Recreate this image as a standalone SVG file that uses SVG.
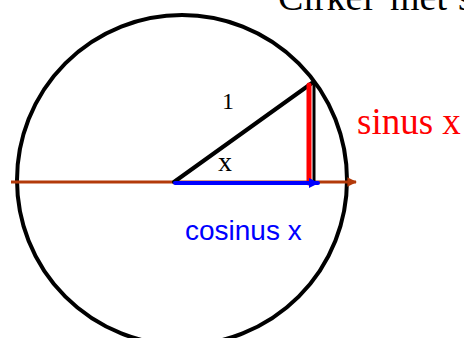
<svg xmlns="http://www.w3.org/2000/svg" width="464" height="338" viewBox="0 0 464 338">
<style>
.serif{font-family:"Liberation Serif","Times New Roman",serif}
.sans{font-family:"Liberation Sans",Arial,sans-serif}
</style>
<defs>
<marker id="brownHead" viewBox="0 0 10 10" refX="9" refY="5" markerWidth="3.2" markerHeight="3.2" orient="auto" markerUnits="strokeWidth">
<path d="M0,0 L10,5 L0,10 z" fill="#B33A0A"/>
</marker>
<marker id="blueHead" viewBox="0 0 10 10" refX="9" refY="5" markerWidth="2.5" markerHeight="2.5" orient="auto" markerUnits="strokeWidth">
<path d="M0,0 L10,5 L0,10 z" fill="#0000FF"/>
</marker>
</defs>
<rect width="464" height="338" fill="#fff"/>
<text class="serif" y="10" font-size="38" fill="#000"><tspan x="278">Cirkel</tspan><tspan x="390">met</tspan><tspan x="458">s</tspan></text>
<g id="circle">
<circle cx="182" cy="180" r="165" fill="none" stroke="#000" stroke-width="4"/>
</g>
<g id="connectors">
<line x1="11" y1="182" x2="356" y2="182" stroke="#B33A0A" stroke-width="3" marker-end="url(#brownHead)"/>
<line x1="174" y1="182" x2="312" y2="83" stroke="#000" stroke-width="4" stroke-linecap="round"/>
<line x1="314" y1="83" x2="314" y2="182" stroke="#000" stroke-width="3"/>
<line x1="309" y1="85" x2="309" y2="183" stroke="#FF0000" stroke-width="5" stroke-linecap="round"/>
<line x1="175" y1="183" x2="318" y2="183" stroke="#0000FF" stroke-width="4" stroke-linecap="round" marker-end="url(#blueHead)"/>
</g>
<g id="labels">
<text class="serif" x="228" y="109" font-size="24" text-anchor="middle" fill="#000">1</text>
<text class="serif" x="225" y="171" font-size="28" text-anchor="middle" fill="#000">x</text>
<text class="serif" x="357" y="134" font-size="37" fill="#FF0000">sinus x</text>
<text class="sans" x="185" y="240" font-size="28" fill="#0000FF">cosinus x</text>
</g>
</svg>
